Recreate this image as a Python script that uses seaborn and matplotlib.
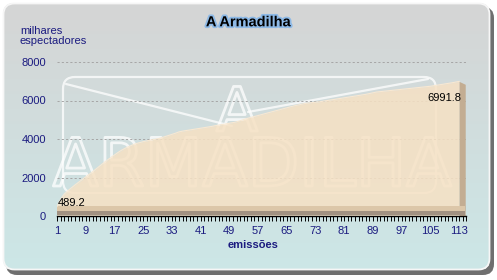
import numpy as np
import pandas as pd
import matplotlib
matplotlib.use("Agg")
import matplotlib.pyplot as plt
import seaborn as sns
from matplotlib.patches import FancyBboxPatch
import matplotlib.patheffects as pe

# ---------------- data ----------------
emissoes = list(range(1, 114))
espectadores = [
    489.2, 860, 1140, 1310, 1460, 1610, 1750, 1890, 2030, 2170,
    2310, 2460, 2610, 2760, 2900, 3040, 3170, 3300, 3420, 3520,
    3610, 3690, 3760, 3810, 3860, 3900, 3940, 3975, 4010, 4060,
    4120, 4180, 4240, 4300, 4370, 4410, 4440, 4470, 4500, 4530,
    4560, 4590, 4620, 4650, 4690, 4720, 4750, 4780, 4820, 4850,
    4890, 4950, 5010, 5070, 5120, 5170, 5220, 5270, 5320, 5370,
    5420, 5470, 5520, 5570, 5620, 5670, 5720, 5760, 5800, 5840,
    5870, 5890, 5910, 5930, 5960, 5990, 6020, 6050, 6080, 6110,
    6140, 6170, 6200, 6230, 6260, 6290, 6320, 6360, 6400, 6440,
    6460, 6480, 6500, 6520, 6540, 6560, 6580, 6600, 6620, 6640,
    6660, 6680, 6700, 6720, 6740, 6770, 6800, 6830, 6860, 6890,
    6920, 6955, 6991.8,
]
x_ticks = list(range(1, 114, 8))
y_ticks = [0, 2000, 4000, 6000, 8000]
title = "A Armadilha"
y_label = "milhares\nespectadores"
x_label = "emissões"
watermark_small = "A"
watermark_big = "ARMADILHA"

df = pd.DataFrame({"emissao": emissoes, "espectadores": espectadores})

plt.rcParams["font.family"] = ["Liberation Sans", "DejaVu Sans"]

W, H = 497, 280
fig = plt.figure(figsize=(W / 100, H / 100), dpi=100)
fig.patch.set_facecolor("white")

navy = "#1b1b80"

# ---------------- background frame ----------------
bg = fig.add_axes([0, 0, 1, 1], zorder=-10)
bg.set_xlim(0, W)
bg.set_ylim(H, 0)
bg.axis("off")

shadow = FancyBboxPatch((6, 7), 488, 268, boxstyle="round,pad=0,rounding_size=11",
                        fc="#6f6f6f", ec="none")
bg.add_patch(shadow)
clip = FancyBboxPatch((3, 3), 487, 267, boxstyle="round,pad=0,rounding_size=11",
                      fc="none", ec="none", transform=bg.transData)
bg.add_patch(clip)
g = np.linspace(0, 1, 256)[:, None, None]
top = np.array([0.835, 0.835, 0.835])
bottom = np.array([0.80, 0.905, 0.905])
img = top * (1 - g) + bottom * g
im = bg.imshow(img, extent=(3, 490, 270, 3), aspect="auto", zorder=1)
im.set_clip_path(clip)
frame = FancyBboxPatch((3.5, 3.5), 486, 266, boxstyle="round,pad=0,rounding_size=11",
                       fc="none", ec="#f6f6f6", lw=1.3, zorder=2)
bg.add_patch(frame)

# watermark logo
wm_col = (1, 1, 1, 0.75)
env = FancyBboxPatch((63, 77), 373, 116, boxstyle="round,pad=0,rounding_size=12",
                     fc="none", ec=wm_col, lw=1.6, zorder=3)
bg.add_patch(env)
bg.plot([66, 232], [84, 126], color=wm_col, lw=1.6, zorder=3, solid_capstyle="round")
bg.plot([248, 428], [112, 79], color=wm_col, lw=1.6, zorder=3, solid_capstyle="round")
bg.text(237, 131, watermark_small, fontsize=44, ha="center", va="baseline",
        color="none", family="DejaVu Sans", zorder=3,
        path_effects=[pe.Stroke(linewidth=2.0, foreground=wm_col)])
bg.text(252, 186, watermark_big, fontsize=48, ha="center", va="baseline",
        color="none", family="DejaVu Sans", zorder=3,
        path_effects=[pe.Stroke(linewidth=2.0, foreground=wm_col)])

# ---------------- main axes ----------------
x0, x1px = 57, 466.3
ax = fig.add_axes([x0 / W, 1 - 216 / H, (x1px - x0) / W, 154 / H])
ax.set_facecolor("none")
ax.set_xlim(1, 115)
ax.set_ylim(0, 8000)
ax.set_axisbelow(True)

ax.fill_between(df["emissao"], df["espectadores"], 0, color="#f6e1c4",
                alpha=0.86, lw=0, zorder=2)
sns.lineplot(data=df, x="emissao", y="espectadores", ax=ax,
             color="#f8e8d2", lw=0.8, zorder=2.5)
# right side face (3D look)
xe, ye = emissoes[-1], espectadores[-1]
ax.fill_between([xe, xe + 1.7], [ye, ye - 150], [0, 0], color="#c3ad92",
                lw=0, zorder=2.2)
# bottom bevel
frac = (xe + 1.7 - 1) / (115 - 1)
ax.axhspan(250, 520, xmin=0, xmax=frac, color="#dcc7a9", lw=0, zorder=2.3)
ax.axhspan(60, 250, xmin=0, xmax=frac, color="#a29282", lw=0, zorder=2.3)

ax.set_xlabel("")
ax.set_ylabel("")
ax.yaxis.grid(True, ls=(0, (2.2, 2.2)), color="#a6a6a6", lw=0.7)
ax.xaxis.grid(False)
for s in ["top", "right", "left"]:
    ax.spines[s].set_visible(False)
ax.spines["bottom"].set_color("black")
ax.spines["bottom"].set_linewidth(1.0)
ax.spines["bottom"].set_zorder(5)

ax.set_xticks(x_ticks)
ax.set_xticks(range(1, 116), minor=True)
ax.set_yticks(y_ticks)
ax.set_yticklabels([str(v) for v in y_ticks])
ax.tick_params(axis="x", which="both", direction="out", length=3.6, width=0.7,
               color="black", labelsize=8, labelcolor=navy, pad=3.5)
ax.tick_params(axis="y", length=0, labelsize=8, labelcolor=navy, pad=8)
ax.legend_ = None

# data labels
ax.annotate(f"{espectadores[0]:.1f}", (emissoes[0], espectadores[0]),
            xytext=(0.8, 2.6), textcoords="offset points", ha="left", va="center",
            fontsize=8, color="black", zorder=6)
ax.annotate(f"{espectadores[-1]:.1f}", (emissoes[-1], espectadores[-1]),
            xytext=(1.4, -12), textcoords="offset points", ha="right", va="center",
            fontsize=8, color="black", zorder=6)

# texts
fig.text(248.5 / W, 1 - 22.3 / H, title, ha="center", va="center", fontsize=10.5,
         fontweight="bold", color="black",
         path_effects=[pe.withStroke(linewidth=2.6, foreground="#8db9e6")])
fig.text(20 / W, 1 - 25.5 / H, y_label, ha="left", va="top", fontsize=8,
         color=navy, linespacing=1.08)
fig.text(253.5 / W, 1 - 245 / H, x_label, ha="center", va="center", fontsize=8,
         fontweight="bold", color=navy)

fig.savefig("out.png", dpi=100)
